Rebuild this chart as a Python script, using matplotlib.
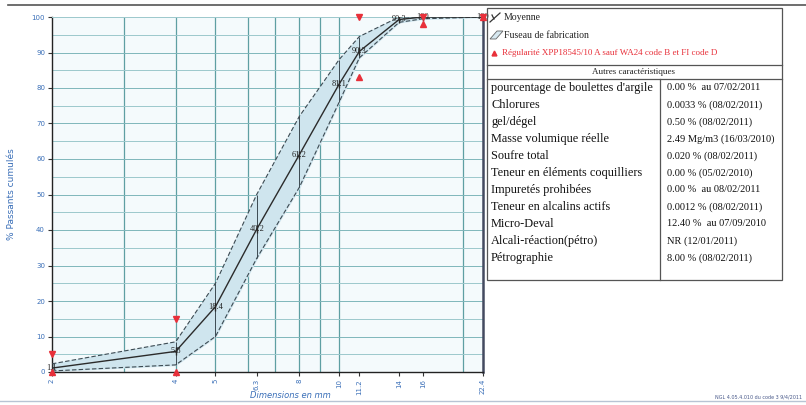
import numpy as np
import matplotlib.pyplot as plt
from matplotlib.patches import Rectangle, Polygon
from matplotlib.ticker import FixedLocator, NullFormatter

##### Data #####
sieves = [2, 4, 5, 6.3, 8, 10, 11.2, 14, 16, 22.4]
sieve_labels = ["2", "4", "5", "6.3", "8", "10", "11.2", "14", "16", "22.4"]
mean_pass = [1.1, 5.8, 18.4, 40.2, 61.2, 81.1, 90.3, 99.3, 100.0, 100.0]
mean_labels = ["1.1", "5.8", "18.4", "40.2", "61.2", "81.1", "90.3", "99.3", "100", "100"]
upper_env = [2.3, 8.5, 25.0, 50.0, 72.0, 88.0, 94.5, 100.0, 100.0, 100.0]
lower_env = [0.3, 2.0, 10.0, 32.0, 52.0, 76.0, 88.5, 98.5, 99.5, 100.0]

spec_sieves = [2, 4, 11.2, 16, 22.4]
spec_upper = [5, 15, 100, 100, 100]
spec_lower = [0, 0, 83, 98, 100]

legend_labels = ["Moyenne", "Fuseau de fabrication",
                 "Régularité XPP18545/10 A sauf WA24 code B et FI code D"]
table_title = "Autres caractéristiques"
table_names = ["pourcentage de boulettes d'argile", "Chlorures", "gel/dégel",
               "Masse volumique réelle", "Soufre total",
               "Teneur en éléments coquilliers", "Impuretés prohibées",
               "Teneur en alcalins actifs", "Micro-Deval",
               "Alcali-réaction(pétro)", "Pétrographie"]
table_values = ["0.00 %  au 07/02/2011", "0.0033 % (08/02/2011)",
                "0.50 % (08/02/2011)", "2.49 Mg/m3 (16/03/2010)",
                "0.020 % (08/02/2011)", "0.00 % (05/02/2010)",
                "0.00 %  au 08/02/2011", "0.0012 % (08/02/2011)",
                "12.40 %  au 07/09/2010", "NR (12/01/2011)",
                "8.00 % (08/02/2011)"]

W, H = 806, 405
blue = "#3a6fb8"
teal = "#5e9fa3"
red = "#e8303a"

fig = plt.figure(figsize=(W / 100, H / 100), dpi=100)

# --- main grading curve ---
ax = fig.add_axes([52 / W, 1 - 372 / H, (483 - 52) / W, (372 - 17) / H])
ax.set_facecolor("#f4fafc")
ax.set_xscale("log")
ax.set_xlim(2, 22.4)
ax.set_ylim(0, 100)

# grid: log minor lines (3..10, 20) and every 5 %
for gx in [3, 4, 5, 6, 7, 8, 9, 10, 20]:
    ax.axvline(gx, color=teal, lw=0.9, zorder=1)
for gy in range(5, 100, 5):
    ax.axhline(gy, color="#9cc8cc" if gy % 10 else "#7fb6ba", lw=0.7, zorder=1)

ax.fill_between(sieves, lower_env, upper_env, color="#cfe5ee", zorder=2)
ax.plot(sieves, upper_env, color="#3c4a52", lw=0.8, ls=(0, (4, 2)), zorder=3)
ax.plot(sieves, lower_env, color="#3c4a52", lw=0.8, ls=(0, (4, 2)), zorder=3)
ax.vlines(sieves, lower_env, upper_env, color="#3c4a52", lw=0.7, zorder=3)
ax.plot(sieves, mean_pass, color="#2b2b2b", lw=1.0, zorder=4,
        marker="|", ms=6, mew=1.0)
for sx, sy, lab in zip(sieves, mean_pass, mean_labels):
    ax.text(sx, sy, lab, fontsize=6, ha="center", va="center",
            color="#222222", family="Liberation Serif", zorder=5, clip_on=False)

ax.plot(spec_sieves, spec_upper, ls="none", marker="v", ms=4, color=red,
        zorder=6, clip_on=False)
ax.plot(spec_sieves, spec_lower, ls="none", marker="^", ms=4, color=red,
        zorder=6, clip_on=False)

ax.xaxis.set_major_locator(FixedLocator(sieves))
ax.xaxis.set_minor_locator(FixedLocator([]))
ax.xaxis.set_minor_formatter(NullFormatter())
ax.set_xticklabels(sieve_labels, rotation=90, fontsize=5, color=blue)
ax.set_yticks(range(0, 101, 10))
ax.set_yticklabels([str(v) for v in range(0, 101, 10)], fontsize=5, color=blue)
ax.tick_params(length=3, width=0.8, color="#333333", pad=2)
ax.set_ylabel("% Passants cumulés", fontsize=6.5, color=blue, labelpad=11)
for side in ["left", "bottom"]:
    ax.spines[side].set_color("#222222")
    ax.spines[side].set_linewidth(1.0)
ax.spines["right"].set_color("#444a60")
ax.spines["right"].set_linewidth(1.8)
ax.spines["top"].set_color("#9cc8cc")
ax.spines["top"].set_linewidth(0.7)

# --- legend and table, drawn in pixel coordinates ---
ov = fig.add_axes([0, 0, 1, 1], zorder=10)
ov.set_xlim(0, W)
ov.set_ylim(H, 0)
ov.axis("off")
ov.patch.set_alpha(0)

ov.text(290, 395, "Dimensions en mm", fontsize=6, color=blue, style="italic",
        ha="center", va="center")
ov.plot([8, W], [5, 5], color="#555555", lw=1.2)
ov.plot([0, W], [401, 401], color="#b8c4d4", lw=1.0)

ov.add_patch(Rectangle((487, 8), 295, 272, fill=False, ec="#555555", lw=0.9))
ov.plot([490, 500], [22, 13], color="#333333", lw=0.9)
ov.plot([492, 494], [15, 19], color="#333333", lw=0.9)
ov.text(504, 17, legend_labels[0], fontsize=7, va="center",
        family="Liberation Serif", color="#222222")
ov.add_patch(Polygon([[490, 39], [497, 31], [503, 31], [496, 39]], closed=True,
                     fc="#d7e8f0", ec="#666666", lw=0.6))
ov.text(504, 35, legend_labels[1], fontsize=7, va="center",
        family="Liberation Serif", color="#222222")
ov.plot([494], [53], marker="^", ms=3.5, color=red)
ov.text(502, 53, legend_labels[2], fontsize=6.5, va="center",
        family="Liberation Serif", color=red)

ov.plot([487, 782], [65, 65], color="#555555", lw=0.9)
ov.plot([487, 782], [79, 79], color="#555555", lw=0.9)
ov.text(634, 72, table_title, fontsize=6.5, ha="center", va="center",
        family="Liberation Serif", color="#222222")
ov.plot([660, 660], [79, 280], color="#555555", lw=0.9)
for i, (name, val) in enumerate(zip(table_names, table_values)):
    y = 88 + i * 17
    ov.text(491, y, name, fontsize=8.8, va="center",
            family="Liberation Serif", color="#111111")
    ov.text(667, y, val, fontsize=7.5, va="center",
            family="Liberation Serif", color="#111111")

ov.text(802, 397, "NGL 4.05.4.010 du code 3 9/4/2011", fontsize=3.5,
        ha="right", va="center", color="#4a5a8a")

fig.savefig("out.png", dpi=100)
